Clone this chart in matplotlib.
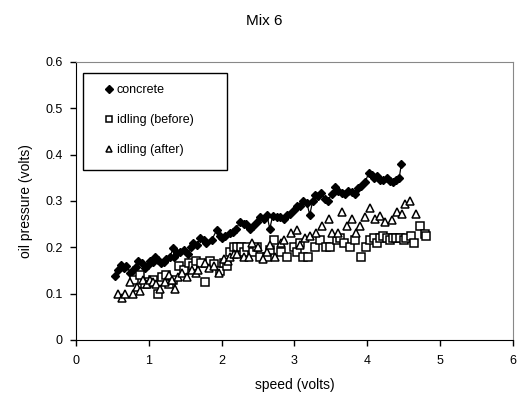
import matplotlib.pyplot as plt
from matplotlib.patches import Rectangle

plt.rcParams['font.family'] = ['Liberation Sans', 'DejaVu Sans']

# concrete
conc_x = [0.53, 0.58, 0.62, 0.66, 0.69, 0.74, 0.78, 0.82, 0.85, 0.9, 0.94, 0.98,
          1.01, 1.05, 1.08, 1.13, 1.17, 1.2, 1.24, 1.29, 1.33, 1.35, 1.38, 1.43,
          1.48, 1.54, 1.58, 1.61, 1.66, 1.7, 1.75, 1.79, 1.86, 1.93, 1.97, 2.0,
          2.05, 2.11, 2.16, 2.2, 2.25, 2.3, 2.34, 2.39, 2.43, 2.48, 2.53, 2.58,
          2.62, 2.66, 2.7, 2.76, 2.8, 2.85, 2.9, 2.94, 2.99, 3.03, 3.08, 3.12,
          3.17, 3.21, 3.25, 3.28, 3.33, 3.37, 3.42, 3.46, 3.51, 3.56, 3.6, 3.65,
          3.7, 3.74, 3.79, 3.83, 3.88, 3.92, 3.97, 4.02, 4.06, 4.1, 4.13, 4.18,
          4.22, 4.27, 4.31, 4.36, 4.4, 4.44, 4.47]
conc_y = [0.138, 0.15, 0.162, 0.155, 0.16, 0.145, 0.15, 0.158, 0.17, 0.165, 0.155, 0.162,
          0.17, 0.168, 0.18, 0.172, 0.165, 0.168, 0.175, 0.18, 0.198, 0.18, 0.188, 0.19,
          0.195, 0.185, 0.2, 0.21, 0.205, 0.22, 0.215, 0.21, 0.215, 0.237, 0.225, 0.22,
          0.225, 0.23, 0.232, 0.24, 0.255, 0.25, 0.25, 0.24, 0.245, 0.255, 0.265, 0.26,
          0.27, 0.24, 0.268, 0.265, 0.265, 0.26, 0.27, 0.272, 0.28, 0.29, 0.29, 0.3,
          0.295, 0.27, 0.3, 0.313, 0.31, 0.316, 0.305, 0.3, 0.315, 0.33, 0.322, 0.318,
          0.315, 0.322, 0.32, 0.315, 0.328, 0.333, 0.34, 0.36, 0.356, 0.35, 0.353, 0.345,
          0.345, 0.35, 0.342, 0.34, 0.345, 0.35, 0.38]

# idling (before)
bef_x = [0.8, 0.88, 0.95, 1.0, 1.05, 1.12, 1.18, 1.23, 1.27, 1.33, 1.41, 1.48,
         1.55, 1.6, 1.65, 1.72, 1.77, 1.84, 1.89, 1.98, 2.03, 2.07, 2.12, 2.17,
         2.21, 2.26, 2.3, 2.35, 2.43, 2.48, 2.53, 2.62, 2.67, 2.72, 2.81, 2.9,
         2.99, 3.03, 3.08, 3.12, 3.19, 3.28, 3.35, 3.44, 3.49, 3.58, 3.63, 3.68,
         3.76, 3.83, 3.92, 3.99, 4.04, 4.09, 4.13, 4.18, 4.22, 4.27, 4.31, 4.36,
         4.4, 4.45, 4.5, 4.54, 4.6, 4.65, 4.72, 4.79, 4.81]
bef_y = [0.13, 0.14, 0.12, 0.125, 0.13, 0.1, 0.135, 0.14, 0.12, 0.13, 0.16, 0.15,
         0.165, 0.16, 0.17, 0.165, 0.125, 0.17, 0.163, 0.148, 0.165, 0.16, 0.19, 0.2,
         0.2, 0.2, 0.19, 0.2, 0.19, 0.2, 0.18, 0.18, 0.195, 0.215, 0.19, 0.18,
         0.2, 0.19, 0.21, 0.18, 0.18, 0.2, 0.215, 0.2, 0.2, 0.215, 0.22, 0.21,
         0.2, 0.215, 0.18, 0.2, 0.215, 0.22, 0.21, 0.22, 0.225, 0.22, 0.215, 0.22,
         0.22, 0.22, 0.215, 0.22, 0.225, 0.21, 0.245, 0.228, 0.225]

# idling (after)
aft_x = [0.58, 0.63, 0.67, 0.74, 0.78, 0.83, 0.87, 0.92, 0.97, 1.01, 1.06, 1.1,
         1.15, 1.22, 1.27, 1.32, 1.36, 1.4, 1.45, 1.52, 1.59, 1.64, 1.68, 1.77,
         1.83, 1.89, 1.96, 2.03, 2.08, 2.12, 2.17, 2.21, 2.3, 2.37, 2.41, 2.5,
         2.57, 2.62, 2.67, 2.73, 2.82, 2.86, 2.95, 3.04, 3.08, 3.14, 3.22, 3.29,
         3.38, 3.47, 3.52, 3.6, 3.65, 3.72, 3.79, 3.85, 3.9, 3.97, 4.04, 4.11,
         4.18, 4.25, 4.34, 4.41, 4.48, 4.52, 4.59, 4.67]
aft_y = [0.1, 0.09, 0.1, 0.125, 0.1, 0.115, 0.105, 0.13, 0.12, 0.13, 0.125, 0.12,
         0.11, 0.125, 0.14, 0.13, 0.11, 0.135, 0.145, 0.135, 0.15, 0.145, 0.15, 0.165,
         0.155, 0.16, 0.145, 0.175, 0.17, 0.18, 0.185, 0.185, 0.18, 0.18, 0.21, 0.2,
         0.175, 0.19, 0.205, 0.18, 0.21, 0.215, 0.23, 0.237, 0.205, 0.22, 0.225, 0.23,
         0.245, 0.26, 0.23, 0.23, 0.275, 0.245, 0.26, 0.23, 0.245, 0.265, 0.285, 0.26,
         0.268, 0.255, 0.258, 0.275, 0.272, 0.293, 0.3, 0.272]

fig = plt.figure(figsize=(5.28, 3.99), dpi=100)
ax = fig.add_axes([0.1445, 0.148, 0.8265, 0.697])

ax.plot(conc_x, conc_y, color='black', linewidth=0.9)
ax.plot(conc_x, conc_y, linestyle='none', marker='D', markersize=4.5,
        color='black', label='concrete')
ax.plot(bef_x, bef_y, linestyle='none', marker='s', markersize=6,
        markerfacecolor='white', markeredgecolor='black', markeredgewidth=1.1,
        label='idling (before)')
ax.plot(aft_x, aft_y, linestyle='none', marker='^', markersize=6,
        markerfacecolor='white', markeredgecolor='black', markeredgewidth=1.1,
        label='idling (after)')

ax.set_xlim(0, 6)
ax.set_ylim(0, 0.6)
ax.set_xticks(range(7))
ax.set_yticks([0, 0.1, 0.2, 0.3, 0.4, 0.5, 0.6])
ax.set_yticklabels(['0', '0.1', '0.2', '0.3', '0.4', '0.5', '0.6'])
ax.tick_params(labelsize=9, direction='out', length=4, width=1)
ax.tick_params(axis='x', pad=7)
ax.tick_params(axis='y', pad=6)
ax.spines['top'].set_color('#888888')
ax.spines['right'].set_color('#888888')

ax.set_xlabel('speed (volts)', fontsize=10, labelpad=8)
ax.set_ylabel('oil pressure (volts)', fontsize=10, labelpad=9)
fig.suptitle('Mix 6', fontsize=11, y=0.965)

# legend box
ax.add_patch(Rectangle((0.0154, 0.612), 0.33, 0.348, transform=ax.transAxes,
                       facecolor='white', edgecolor='black', linewidth=1.0,
                       zorder=4))
leg = ax.legend(loc='upper left', bbox_to_anchor=(0.064, 0.92), fontsize=9,
                frameon=False, borderaxespad=0, markerscale=0.8,
                handlelength=0.8, handletextpad=0.2, labelspacing=1.45,
                borderpad=0)
leg.set_zorder(5)

plt.savefig('out.png', dpi=100)
